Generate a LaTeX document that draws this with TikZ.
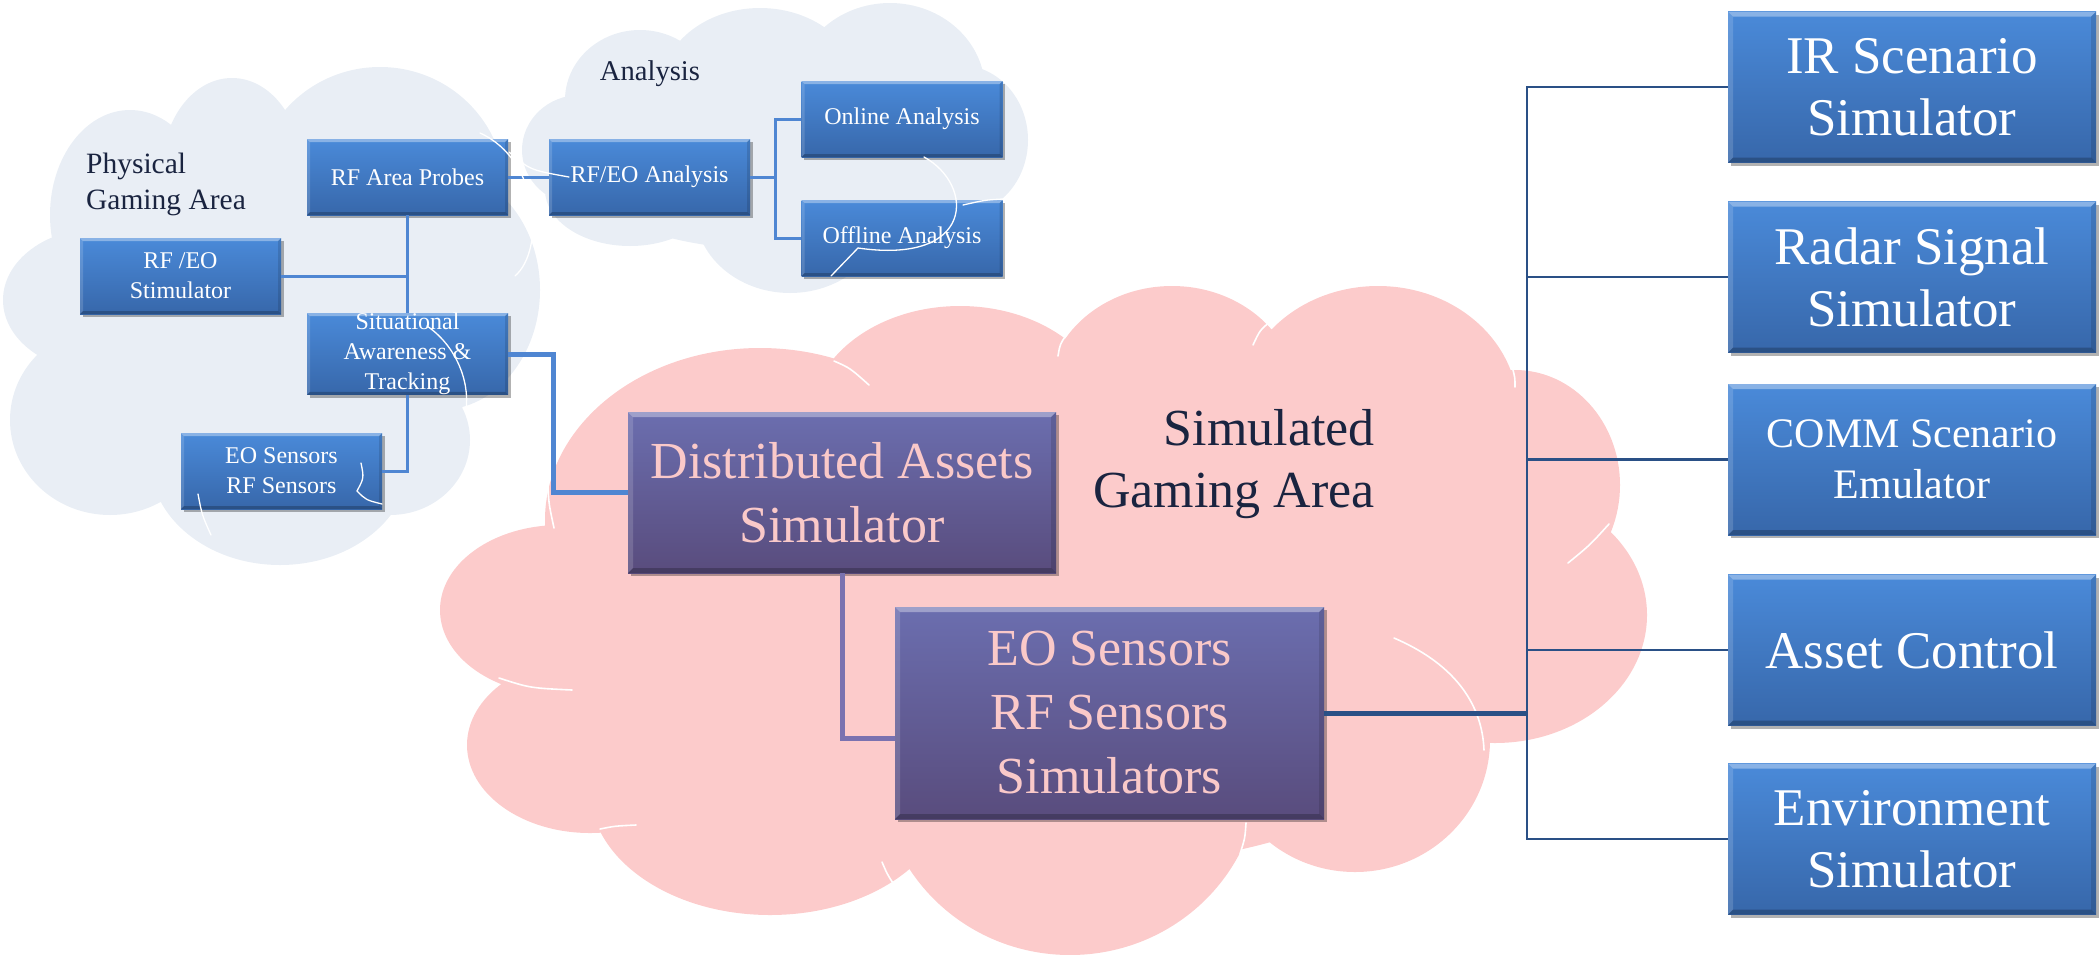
\documentclass[tikz,border=0pt]{standalone}
\usepackage{fontspec}
\setmainfont{Liberation Serif}
\usetikzlibrary{shadows,calc}

\definecolor{boxtop}{HTML}{4A8AD9}
\definecolor{boxbot}{HTML}{3767AA}
\definecolor{vtop}{HTML}{6B6EAF}
\definecolor{vbot}{HTML}{594C7D}
\definecolor{vtext}{HTML}{FAC9C9}
\definecolor{mist}{HTML}{E9EEF5}
\definecolor{blush}{HTML}{FCCBCB}
\definecolor{wire}{HTML}{4F86D2}
\definecolor{navy}{HTML}{2A5086}
\definecolor{plum}{HTML}{7A72B0}
\definecolor{ink}{HTML}{1A2440}

\tikzset{
  bevel/.style={path picture={
    \fill[white,opacity=.35] (path picture bounding box.north west) -- (path picture bounding box.north east)
      -- ([xshift=-#1,yshift=-#1]path picture bounding box.north east) -- ([xshift=#1,yshift=-#1]path picture bounding box.north west) -- cycle;
    \fill[white,opacity=.15] (path picture bounding box.north west) -- ([xshift=#1,yshift=-#1]path picture bounding box.north west)
      -- ([xshift=#1,yshift=#1]path picture bounding box.south west) -- (path picture bounding box.south west) -- cycle;
    \fill[black,opacity=.22] (path picture bounding box.south west) -- (path picture bounding box.south east)
      -- ([xshift=-#1,yshift=#1]path picture bounding box.south east) -- ([xshift=#1,yshift=#1]path picture bounding box.south west) -- cycle;
    \fill[black,opacity=.12] (path picture bounding box.north east) -- ([xshift=-#1,yshift=-#1]path picture bounding box.north east)
      -- ([xshift=-#1,yshift=#1]path picture bounding box.south east) -- (path picture bounding box.south east) -- cycle;
  }},
  panel/.style={rectangle, inner sep=0pt, align=center, top color=boxtop, bottom color=boxbot,
    text=white, bevel=3pt,
    drop shadow={shadow xshift=2.5pt, shadow yshift=-3pt, opacity=.3, fill=black}},
  small/.style={panel, minimum width=201pt, minimum height=76pt, font=\fontsize{24}{30}\selectfont},
  side/.style={panel, minimum width=368pt, minimum height=151pt, font=\fontsize{53}{62}\selectfont, bevel=5pt},
  simbox/.style={panel, top color=vtop, bottom color=vbot, text=vtext, font=\fontsize{52}{64}\selectfont, bevel=5pt},
  area/.style={inner sep=0pt, text=ink},
  wireln/.style={draw=wire, line width=3pt},
  wirethick/.style={draw=wire, line width=5pt},
  plumln/.style={draw=plum, line width=5pt},
  navyln/.style={draw=navy, line width=2.5pt},
  navythick/.style={draw=navy, line width=5pt},
  seam/.style={draw=white, line width=1.6pt, line cap=round},
}

\begin{document}
\begin{tikzpicture}[x=1pt,y=-1pt]
\useasboundingbox (0,0) rectangle (2100,954);

% --- physical gaming area cloud
\fill[mist]
  (100,300) ellipse [x radius=97, y radius=72]
  (130,215) ellipse [x radius=80, y radius=105]
  (232,170) ellipse [x radius=70, y radius=92]
  (380,190) ellipse [x radius=125, y radius=123]
  (440,290) ellipse [x radius=100, y radius=120]
  (390,440) ellipse [x radius=80, y radius=75]
  (280,460) ellipse [x radius=130, y radius=105]
  (110,420) ellipse [x radius=100, y radius=95]
  (270,320) ellipse [x radius=220, y radius=180];

% --- analysis cloud
\fill[mist]
  (580,150) ellipse [x radius=58, y radius=55]
  (640,100) ellipse [x radius=75, y radius=70]
  (760,90) ellipse [x radius=100, y radius=82]
  (890,90) ellipse [x radius=95, y radius=87]
  (960,140) ellipse [x radius=68, y radius=75]
  (900,200) ellipse [x radius=70, y radius=60]
  (790,210) ellipse [x radius=95, y radius=83]
  (630,190) ellipse [x radius=85, y radius=56]
  (775,150) ellipse [x radius=220, y radius=100];

% --- simulated gaming area cloud
\fill[blush]
  (560,610) ellipse [x radius=120, y radius=85]
  (590,745) ellipse [x radius=123, y radius=88]
  (770,790) ellipse [x radius=180, y radius=125]
  (1070,770) ellipse [x radius=190, y radius=185]
  (1355,740) ellipse [x radius=135, y radius=132]
  (1495,615) ellipse [x radius=152, y radius=128]
  (1515,485) ellipse [x radius=105, y radius=115]
  (1378,410) ellipse [x radius=140, y radius=124]
  (1172,396) ellipse [x radius=125, y radius=110]
  (960,420) ellipse [x radius=150, y radius=114]
  (760,520) ellipse [x radius=215, y radius=172]
  (1050,620) ellipse [x radius=480, y radius=250];

% inner seams of the pink cloud
\draw[seam] (834,361) .. controls (850,368) .. (869,385);
\draw[seam] (1067,334) .. controls (1060,344) .. (1058,356);
\draw[seam] (1271,321) .. controls (1260,330) .. (1253,345);
\draw[seam] (1513,370) .. controls (1515,378) .. (1515,387);
\draw[seam] (1609,524) .. controls (1590,545) .. (1568,563);
\draw[seam] (1394,638) .. controls (1450,662) and (1482,700) .. (1484,750);
\draw[seam] (1246,823) .. controls (1245,838) .. (1240,854);
\draw[seam] (499,678) .. controls (530,688) .. (572,690);
\draw[seam] (600,829) .. controls (615,826) .. (636,825);
\draw[seam] (882,862) .. controls (888,876) .. (900,893);
\draw[seam] (548,470) .. controls (548,500) .. (554,528);

% --- text of the three areas
\node[area, align=left, font=\fontsize{29.5}{36}\selectfont] (pga) at (166,184.5) {Physical\\Gaming Area};
\node[area, font=\fontsize{28.6}{34}\selectfont] (ana) at (650,73.5) {Analysis};
\node[area, align=right, font=\fontsize{52}{62}\selectfont] (sga) at (1234,464.5) {Simulated\\Gaming Area};

% --- blocks
\node[small] (probes)  at (407.5,177) {RF Area Probes};
\node[small] (rfeoan)  at (649.5,177) {RF/EO Analysis};
\node[small] (online)  at (902,119)   {Online Analysis};
\node[small] (offline) at (902,238)   {Offline Analysis};
\node[small] (stim)    at (180.5,276) {RF /EO\\Stimulator};
\node[small] (sa)      at (407.5,354) {Situational\\Awareness \&\\Tracking};
\node[small] (eosens)  at (281.5,471) {EO Sensors\\RF Sensors};

\node[simbox, minimum width=428pt, minimum height=161pt] (das)   at (842,492.5) {Distributed Assets\\Simulator};
\node[simbox, minimum width=429pt, minimum height=212pt] (eosim) at (1109.5,713) {EO Sensors\\RF Sensors\\Simulators};

\node[side] (ir)    at (1912,87)    {IR Scenario\\Simulator};
\node[side] (radar) at (1912,277)   {Radar Signal\\Simulator};
\node[side, font=\fontsize{42}{51}\selectfont] (comm) at (1912,459.5) {COMM Scenario\\Emulator};
\node[side] (asset) at (1912,650)   {Asset Control};
\node[side] (env)   at (1912,839)   {Environment\\Simulator};

% --- connectors
\coordinate (split) at (775,177);
\coordinate (hub) at (1527,712);

\draw[wireln] (probes.east) -- (rfeoan.west);
\draw[wireln] (rfeoan.east) -- (split);
\draw[wireln] (online.west) -| (split) |- (offline.west);
\draw[wireln] (probes.south) -- (sa.north);
\draw[wireln] (stim.east) -- (stim.east -| probes.south);
\draw[wireln] (sa.south) |- (eosens.east);
\draw[wirethick] (sa.east) -- ++(45,0) |- (das.west);
\draw[plumln] (das.south) |- ($(eosim.west)+(0,25)$);
\draw[navythick] (eosim.east) -- (eosim.east -| hub);
\draw[navyln] (ir.west) -| (hub) |- (env.west);
\draw[navyln] (radar.west) -- (radar.west -| hub);
\draw[navyln] (comm.west) -- (comm.west -| hub);
\draw[navyln] (asset.west) -- (asset.west -| hub);

% --- seams of the light clouds, lying over the blocks
\draw[seam, line width=1.3pt] (480,133) .. controls (540,160) and (545,250) .. (515,276);
\draw[seam, line width=1.3pt] (427,326) .. controls (455,345) and (470,380) .. (466,410);
\draw[seam, line width=1.3pt] (361,463) .. controls (364,478) .. (357,491);
\draw[seam, line width=1.3pt] (357,491) .. controls (366,500) .. (382,504);
\draw[seam, line width=1.3pt] (198,494) .. controls (202,515) .. (211,535);
\draw[seam, line width=1.3pt] (924,157) .. controls (975,185) and (975,265) .. (858,248);
\draw[seam, line width=1.3pt] (858,248) .. controls (845,262) .. (831,276);
\draw[seam, line width=1.3pt] (963,205) .. controls (985,200) .. (1003,199);
\draw[seam, line width=1.3pt] (509,152) .. controls (530,170) .. (569,177);
\end{tikzpicture}
\end{document}
